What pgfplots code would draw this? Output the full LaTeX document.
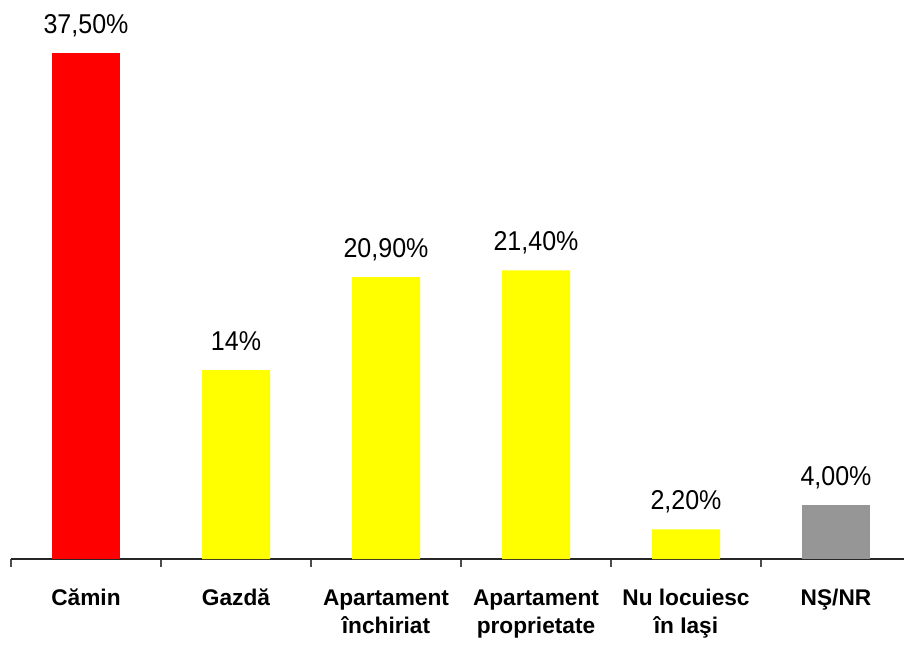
\documentclass[border=0pt]{standalone}
\usepackage{fontspec}
\setmainfont{Liberation Sans}
\newfontfamily\vfont[FakeStretch=0.92]{Liberation Sans}
\usepackage{pgfplots}
\pgfplotsset{compat=1.18}
\definecolor{cred}{RGB}{255,0,0}
\definecolor{cyel}{RGB}{255,255,0}
\definecolor{cgray}{RGB}{150,150,150}
\begin{document}
\begin{tikzpicture}
\path[use as bounding box] (-8.25pt,-63.75pt) rectangle (669.75pt,419.25pt);
\begin{axis}[
  scale only axis,
  width=669.375pt, height=419.25pt,
  xmin=-0.5, xmax=5.45,
  ymin=0, ymax=41.43,
  axis x line=bottom, axis y line=none,
  x axis line style={-, line width=0.9pt, black!85},
  xtick={0,1,2,3,4,5},
  xticklabels={Cămin\\\phantom{X}, Gazdă\\\phantom{X}, Apartament\\închiriat, Apartament\\proprietate, Nu locuiesc\\în Iaşi, NŞ/NR\\\phantom{X}},
  major tick length=0pt,
  minor xtick={-0.5,0.5,1.5,2.5,3.5,4.5,5.5},
  minor tick length=6pt,
  tick align=outside,
  minor tick style={black!70, line width=0.8pt},
  xticklabel style={anchor=base, align=center, font=\bfseries\fontsize{17}{21}\selectfont, yshift=-55.5pt},
  clip=false,
  bar width=51pt,
  nodes near coords,
  point meta=explicit symbolic,
  every node near coord/.append style={anchor=base, yshift=15pt, inner sep=0pt, font=\vfont\fontsize{20.4}{24}\selectfont, text=black},
]
\addplot[ybar, bar shift=0pt, fill=cred, draw=none] coordinates {(0,37.5) [37,50\%]};
\addplot[ybar, bar shift=0pt, fill=cyel, draw=none] coordinates {(1,14) [14\%] (2,20.9) [20,90\%] (3,21.4) [21,40\%] (4,2.2) [2,20\%]};
\addplot[ybar, bar shift=0pt, fill=cgray, draw=none] coordinates {(5,4.0) [4,00\%]};
\end{axis}
\end{tikzpicture}
\end{document}
